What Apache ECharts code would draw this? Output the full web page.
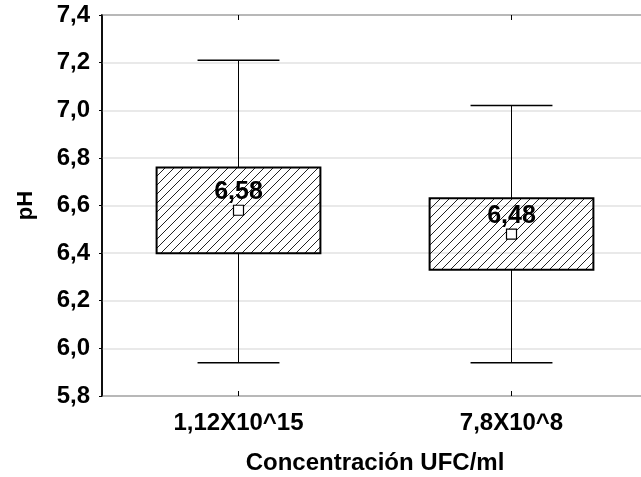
<!DOCTYPE html>
<html>
<head>
<meta charset="utf-8">
<script src="https://cdn.jsdelivr.net/npm/echarts@6/dist/echarts.min.js"></script>
<style>
  html, body { margin: 0; padding: 0; background: #fff; }
  #main { width: 641px; height: 477px; }
</style>
</head>
<body>
<div id="main"></div>
<script>
// datos
var categorias = ['1,12X10^15', '7,8X10^8'];
var minimos = [5.94, 5.94];
var cajaInf = [6.40, 6.33];   // media - DE
var cajaSup = [6.76, 6.63];   // media + DE
var maximos = [7.21, 7.02];
var medias = [6.58, 6.48];
var ticksY = [5.8, 6.0, 6.2, 6.4, 6.6, 6.8, 7.0, 7.2, 7.4];

var chart = echarts.init(document.getElementById('main'));

// patron rayado (////)
var hatch = document.createElement('canvas');
hatch.width = 9;
hatch.height = 9;
var ctx = hatch.getContext('2d');
ctx.strokeStyle = '#222';
ctx.lineWidth = 1;
ctx.beginPath();
ctx.moveTo(0, 9); ctx.lineTo(9, 0);
ctx.moveTo(-1, 1); ctx.lineTo(1, -1);
ctx.moveTo(8, 10); ctx.lineTo(10, 8);
ctx.stroke();

var datos = [];
for (var i = 0; i < categorias.length; i++) {
    datos.push([i, minimos[i], cajaInf[i], cajaSup[i], maximos[i], medias[i]]);
}

var fuente = 'Liberation Sans, Arial, sans-serif';

function renderCaja(params, api) {
    var ci = api.value(0);
    var banda = api.size([1, 0])[0];
    var anchoCaja = banda * 0.6;
    var anchoTope = banda * 0.3;
    var pMin = api.coord([ci, api.value(1)]);
    var pQ1 = api.coord([ci, api.value(2)]);
    var pQ3 = api.coord([ci, api.value(3)]);
    var pMax = api.coord([ci, api.value(4)]);
    var pMed = api.coord([ci, api.value(5)]);
    var x = pMin[0];
    var linea = { stroke: '#000', lineWidth: 1 };
    var etiqueta = api.value(5).toFixed(2).replace('.', ',');
    return {
        type: 'group',
        children: [
            { type: 'line', shape: { x1: x, y1: pMax[1], x2: x, y2: pQ3[1] }, style: linea },
            { type: 'line', shape: { x1: x, y1: pMin[1], x2: x, y2: pQ1[1] }, style: linea },
            { type: 'line', shape: { x1: x - anchoTope / 2, y1: pMax[1], x2: x + anchoTope / 2, y2: pMax[1] }, style: { stroke: '#000', lineWidth: 1.5 } },
            { type: 'line', shape: { x1: x - anchoTope / 2, y1: pMin[1], x2: x + anchoTope / 2, y2: pMin[1] }, style: { stroke: '#000', lineWidth: 1.5 } },
            {
                type: 'rect',
                shape: { x: x - anchoCaja / 2, y: pQ3[1], width: anchoCaja, height: pQ1[1] - pQ3[1] },
                style: { fill: { image: hatch, repeat: 'repeat' }, stroke: '#000', lineWidth: 2 }
            },
            {
                type: 'rect',
                shape: { x: pMed[0] - 5, y: pMed[1] - 5, width: 10, height: 10 },
                style: { fill: '#fff', stroke: '#000', lineWidth: 1.2 }
            },
            {
                type: 'text',
                style: {
                    text: etiqueta, x: x, y: pMed[1] - 18,
                    align: 'center', verticalAlign: 'middle',
                    fontFamily: fuente, fontWeight: 'bold', fontSize: 25, fill: '#000'
                }
            }
        ]
    };
}

var option = {
    backgroundColor: '#fff',
    animation: false,
    grid: {
        left: 102, top: 15, right: -7, bottom: 81,
        show: true, borderColor: '#000', borderWidth: 1.5,
        outerBoundsMode: 'none'
    },
    xAxis: [{
        type: 'category',
        data: categorias,
        name: 'Concentración UFC/ml',
        nameLocation: 'middle',
        nameGap: 55,
        nameTextStyle: { fontFamily: fuente, fontWeight: 'bold', fontSize: 24, color: '#000' },
        axisLine: { show: false },
        axisTick: { show: true, inside: true, alignWithLabel: true, length: 5, lineStyle: { color: '#000' } },
        axisLabel: { margin: 15, fontFamily: fuente, fontWeight: 'bold', fontSize: 24, color: '#000' },
        splitLine: { show: false }
    }, {
        type: 'category',
        data: categorias,
        position: 'top',
        axisLine: { show: false },
        axisTick: { show: true, inside: true, alignWithLabel: true, length: 5, lineStyle: { color: '#000' } },
        axisLabel: { show: false },
        splitLine: { show: false }
    }],
    yAxis: {
        type: 'value',
        min: ticksY[0],
        max: ticksY[ticksY.length - 1],
        interval: 0.2,
        name: 'pH',
        nameLocation: 'middle',
        nameGap: 65,
        nameTextStyle: { fontFamily: fuente, fontWeight: 'bold', fontSize: 22, color: '#000' },
        axisLine: { show: true, lineStyle: { color: '#000', width: 1.5 } },
        axisTick: { show: true, length: 3, lineStyle: { color: '#000' } },
        axisLabel: {
            margin: 12, fontFamily: fuente, fontWeight: 'bold', fontSize: 24, color: '#000',
            formatter: function (v) { return v.toFixed(1).replace('.', ','); }
        },
        splitLine: { show: true, lineStyle: { color: '#e2e2e2', width: 1.5 } }
    },
    series: [{
        type: 'custom',
        xAxisIndex: 0,
        renderItem: renderCaja,
        encode: { x: 0, y: [1, 2, 3, 4, 5] },
        data: datos
    }]
};

chart.setOption(option);
</script>
</body>
</html>
